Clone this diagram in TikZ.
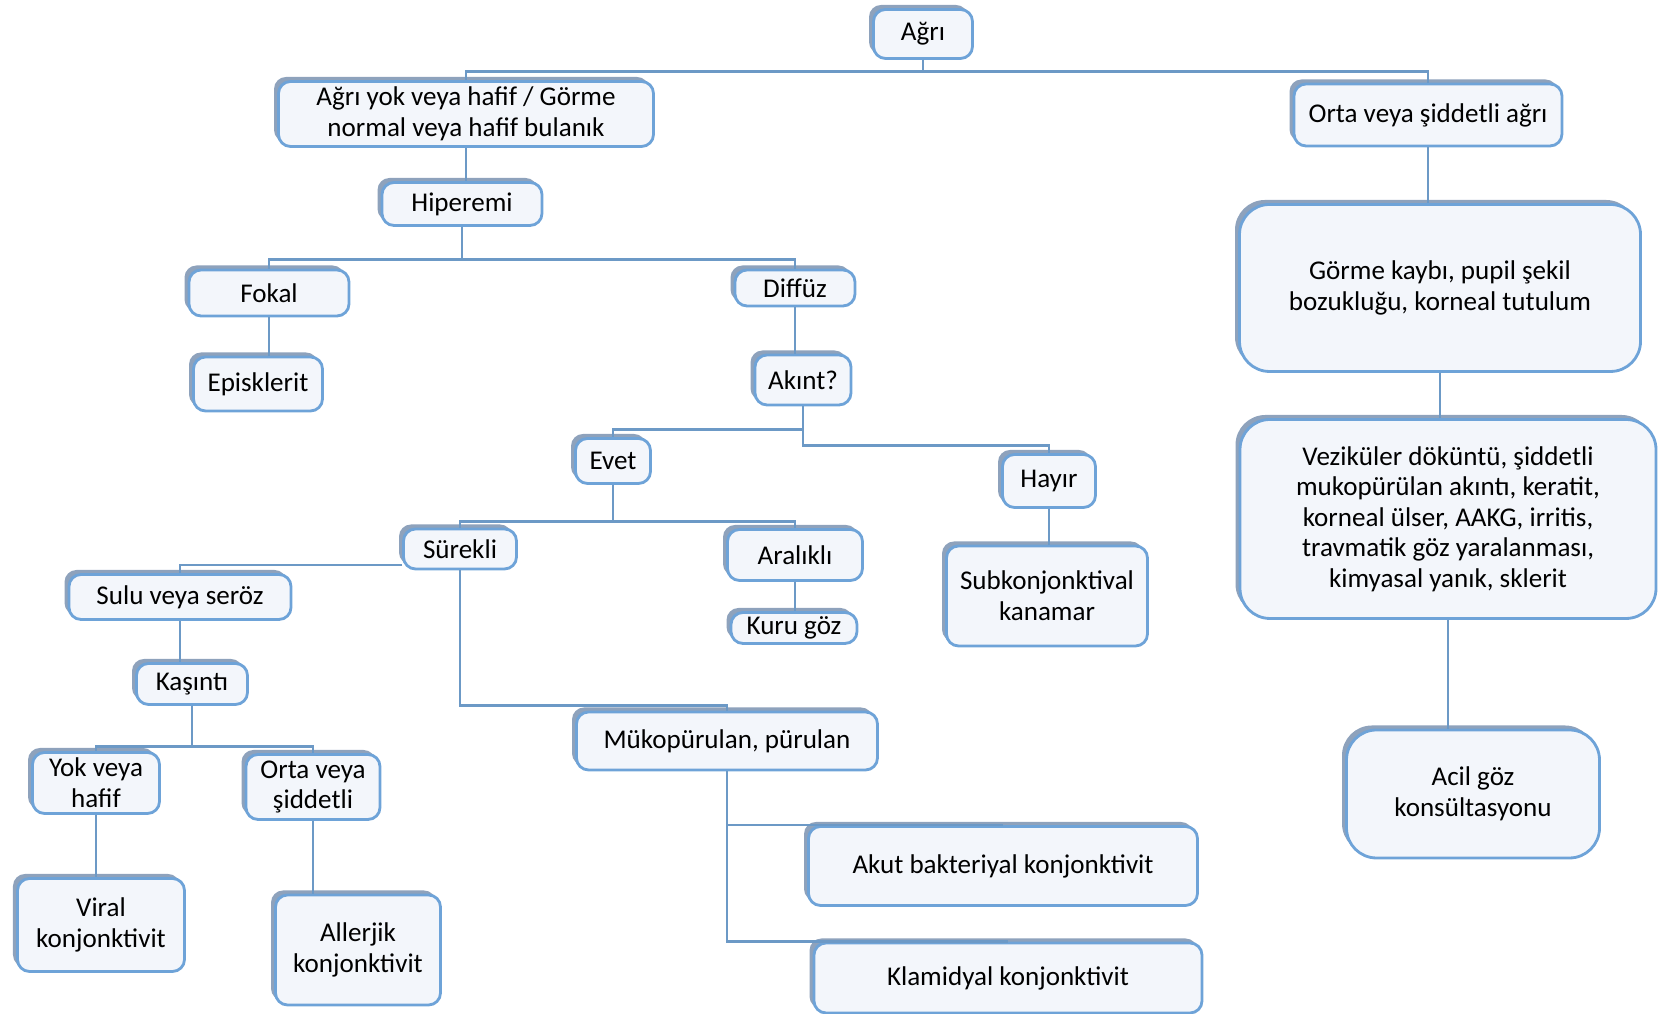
\documentclass[tikz,border=0pt]{standalone}
\usepackage{fontspec}
\setmainfont{Carlito}
\usetikzlibrary{shadows}

\definecolor{kutuic}{RGB}{243,246,251}
\definecolor{kenar}{RGB}{110,163,216}
\definecolor{golge}{RGB}{142,162,188}
\definecolor{hatrenk}{RGB}{108,153,198}

\tikzset{
  kutu/.style={draw=kenar, line width=0.8pt, fill=kutuic, rounded corners=1.2mm,
    align=center, inner sep=1pt, font=\fontsize{7.7}{8.7}\selectfont,
    drop shadow={shadow xshift=-0.45mm, shadow yshift=0.45mm, fill=golge, opacity=1}},
  buyuk/.style={rounded corners=3mm},
  hat/.style={draw=hatrenk, line width=0.8pt}
}

\begin{document}
\begin{tikzpicture}
\useasboundingbox (0,0) rectangle (16.65,10.14);

\node[kutu, minimum width=0.99cm, minimum height=0.49cm] (agri) at (9.23,9.80) {Ağrı};
\node[kutu, minimum width=3.75cm, minimum height=0.65cm] (hafif) at (4.66,9.00) {Ağrı yok veya hafif / Görme\\normal veya hafif bulanık};
\node[kutu, minimum width=2.68cm, minimum height=0.62cm] (siddet) at (14.28,8.99) {Orta veya şiddetli ağrı};

\node[kutu, minimum width=1.60cm, minimum height=0.43cm] (hiper) at (4.62,8.10) {Hiperemi};
\node[kutu, minimum width=1.60cm, minimum height=0.46cm] (fokal) at (2.69,7.21) {Fokal};
\node[kutu, minimum width=1.20cm, minimum height=0.36cm] (diffuz) at (7.95,7.26) {Diffüz};
\node[kutu, minimum width=1.29cm, minimum height=0.54cm] (episk) at (2.58,6.30) {Episklerit};
\node[kutu, minimum width=0.96cm, minimum height=0.50cm] (akinti) at (8.03,6.34) {Akınt?};

\node[kutu, minimum width=0.75cm, minimum height=0.45cm] (evet) at (6.13,5.53) {Evet};
\node[kutu, minimum width=0.93cm, minimum height=0.53cm] (hayir) at (10.49,5.33) {Hayır};
\node[kutu, minimum width=1.13cm, minimum height=0.40cm] (surekli) at (4.60,4.65) {Sürekli};
\node[kutu, minimum width=1.35cm, minimum height=0.51cm] (aralikli) at (7.95,4.59) {Aralıklı};
\node[kutu, minimum width=1.26cm, minimum height=0.31cm] (kuru) at (7.94,3.86) {Kuru göz};
\node[kutu, minimum width=2.01cm, minimum height=1.00cm] (subkonj) at (10.47,4.18) {Subkonjonktival\\kanamar};

\node[kutu, minimum width=2.22cm, minimum height=0.45cm] (sulu) at (1.80,4.17) {Sulu veya seröz};
\node[kutu, minimum width=1.11cm, minimum height=0.41cm] (kasinti) at (1.92,3.30) {Kaşıntı};
\node[kutu, minimum width=1.27cm, minimum height=0.61cm] (yok) at (0.96,2.31) {Yok veya\\hafif};
\node[kutu, minimum width=1.34cm, minimum height=0.65cm] (orta) at (3.13,2.27) {Orta veya\\şiddetli};
\node[kutu, minimum width=1.67cm, minimum height=0.93cm] (viral) at (1.01,0.89) {Viral\\konjonktivit};
\node[kutu, minimum width=1.65cm, minimum height=1.10cm] (allerjik) at (3.58,0.64) {Allerjik\\konjonktivit};

\node[kutu, minimum width=3.01cm, minimum height=0.58cm] (muko) at (7.27,2.73) {Mükopürulan, pürulan};
\node[kutu, minimum width=3.89cm, minimum height=0.79cm] (akut) at (10.03,1.48) {Akut bakteriyal konjonktivit};
\node[kutu, minimum width=3.88cm, minimum height=0.70cm] (klamid) at (10.08,0.36) {Klamidyal konjonktivit};

\node[kutu, buyuk, minimum width=4.01cm, minimum height=1.67cm] (gorme) at (14.40,7.26) {Görme kaybı, pupil şekil\\bozukluğu, korneal tutulum};
\node[kutu, buyuk, minimum width=4.16cm, minimum height=1.99cm] (vezik) at (14.48,4.95) {Veziküler döküntü, şiddetli\\mukopürülan akıntı, keratit,\\korneal ülser, AAKG, irritis,\\travmatik göz yaralanması,\\kimyasal yanık, sklerit};
\node[kutu, buyuk, minimum width=2.53cm, minimum height=1.28cm] (acil) at (14.73,2.20) {Acil göz\\konsültasyonu};

% baglantilar
\draw[hat] (agri.south) -- ++(0,-0.12) -| (hafif.north);
\draw[hat] (agri.south) -- ++(0,-0.12) -| (siddet.north);
\draw[hat] (hafif.south) -- (hafif.south |- hiper.north);
\draw[hat] (hiper.south) -- ++(0,-0.33) -| (fokal.north);
\draw[hat] (hiper.south) -- ++(0,-0.33) -| (diffuz.north);
\draw[hat] (fokal.south) -- (fokal.south |- episk.north);
\draw[hat] (diffuz.south) -- (diffuz.south |- akinti.north);
\draw[hat] (akinti.south) -- ++(0,-0.23) -| (evet.north);
\draw[hat] (akinti.south) -- ++(0,-0.39) -| (hayir.north);
\draw[hat] (evet.south) -- ++(0,-0.365) -| (surekli.north);
\draw[hat] (evet.south) -- ++(0,-0.365) -| (aralikli.north);
\draw[hat] (aralikli.south) -- (aralikli.south |- kuru.north);
\draw[hat] (hayir.south) -- (hayir.south |- subkonj.north);
\draw[hat] ([yshift=-0.16cm]surekli.west) -| (sulu.north);
\draw[hat] (surekli.south) -- ++(0,-1.35) -| (muko.north);
\draw[hat] (sulu.south) -- (sulu.south |- kasinti.north);
\draw[hat] (kasinti.south) -- ++(0,-0.405) -| (yok.north);
\draw[hat] (kasinti.south) -- ++(0,-0.405) -| (orta.north);
\draw[hat] (yok.south) -- (yok.south |- viral.north);
\draw[hat] (orta.south) -- (orta.south |- allerjik.north);
\draw[hat] (muko.south) |- (akut.north);
\draw[hat] (muko.south) |- (klamid.north);
\draw[hat] (siddet.south) -- (siddet.south |- gorme.north);
\draw[hat] (gorme.south) -- (gorme.south |- vezik.north);
\draw[hat] (vezik.south) -- (vezik.south |- acil.north);
\end{tikzpicture}
\end{document}
